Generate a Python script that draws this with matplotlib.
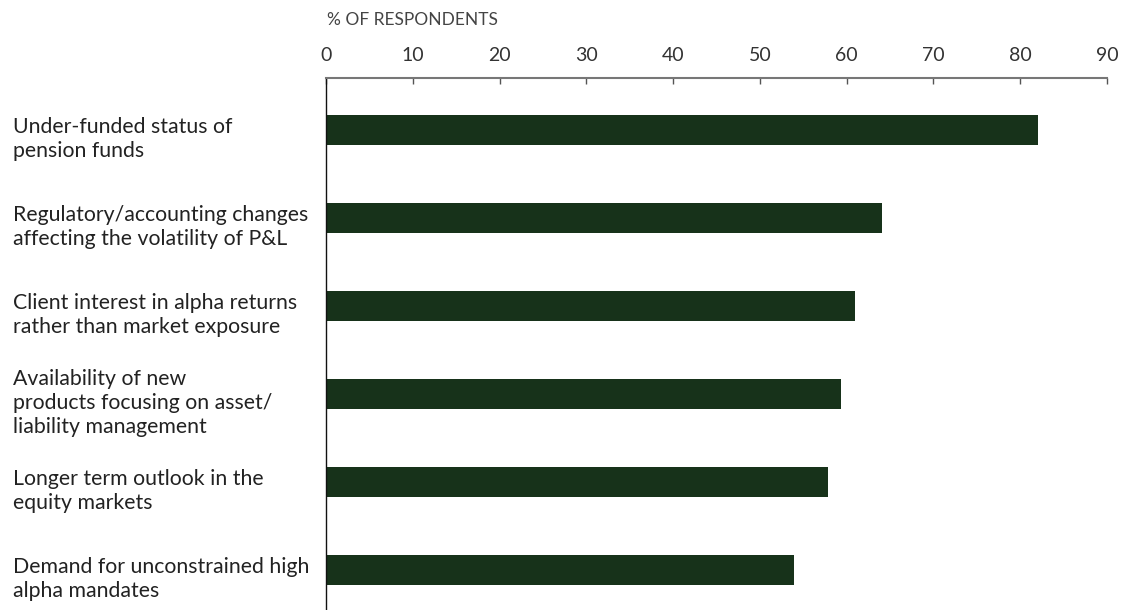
import matplotlib.pyplot as plt

categories = [
    "Under-funded status of\npension funds",
    "Regulatory/accounting changes\naffecting the volatility of P&L",
    "Client interest in alpha returns\nrather than market exposure",
    "Availability of new\nproducts focusing on asset/\nliability management",
    "Longer term outlook in the\nequity markets",
    "Demand for unconstrained high\nalpha mandates",
]
values = [82.0, 64.1, 61.0, 59.3, 57.8, 53.9]
xticks = [0, 10, 20, 30, 40, 50, 60, 70, 80, 90]

plt.rcParams['font.family'] = ['Lato', 'DejaVu Sans']

fig = plt.figure(figsize=(11.38, 6.10), dpi=100)
ax = fig.add_axes([326 / 1138, 0.0, 781 / 1138, 532 / 610])

ypos = list(range(len(values)))
ax.barh(ypos, values, height=0.34, color='#17321a')

ax.set_xlim(0, 90)
ax.set_ylim(5.455, -0.59)
ax.xaxis.tick_top()
ax.set_xticks(xticks)
ax.tick_params(axis='x', direction='in', length=4, width=1, color='#555555',
               labelsize=14, labelcolor='#333333', pad=10)
ax.set_yticks([])

for s in ['right', 'bottom']:
    ax.spines[s].set_visible(False)
ax.spines['top'].set_color('#777777')
ax.spines['top'].set_linewidth(1.5)
ax.spines['left'].set_color('#111111')
ax.spines['left'].set_linewidth(1)

# category labels, left-aligned at the figure's left edge
for y, lab in zip(ypos, categories):
    ax.annotate(lab, xy=(0, y + 0.1), xycoords=('axes fraction', 'data'),
                xytext=(-313, 0), textcoords='offset pixels', fontsize=15.3,
                color='#222222', va='center', ha='left', linespacing=1.25,
                annotation_clip=False)

fig.text(327 / 1138, 1 - 20 / 610, "% OF RESPONDENTS", fontsize=12.5,
         color='#444444', va='center', ha='left')

fig.savefig('out.png', dpi=100)
